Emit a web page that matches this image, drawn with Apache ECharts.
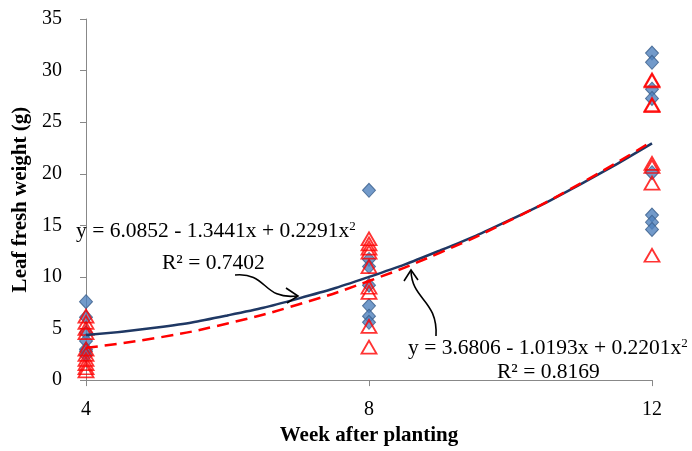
<!DOCTYPE html>
<html>
<head>
<meta charset="utf-8">
<script src="https://cdn.jsdelivr.net/npm/echarts@6/dist/echarts.min.js"></script>
<style>
html,body{margin:0;padding:0;background:#fff;}
#chart{width:692px;height:451px;}
</style>
</head>
<body>
<div id="chart"></div>
<script>
// ---- data ----
var weeks = [4, 8, 12];
var series1At4  = [7.6, 6.1, 4.6, 3.8, 3.0, 2.8, 2.4];
var series1At8  = [18.4, 11.7, 11.0, 9.2, 7.2, 6.2, 5.6];
var series1At12 = [31.7, 30.8, 28.2, 27.3, 20.1, 16.0, 15.3, 14.6];
var series2At4  = [6.2, 5.6, 5.0, 4.6, 3.0, 2.5, 2.0, 1.6, 1.2, 0.9];
var series2At8  = [13.7, 13.2, 12.8, 12.4, 11.0, 9.0, 8.5, 5.2, 3.2];
var series2At12 = [29.1, 29.0, 26.7, 26.6, 21.0, 20.7, 19.1, 12.1];
// trendline values
var trendX  = [4, 5, 6, 7, 8, 9, 10, 11, 12];
var trend1Y = [4.37, 5.09, 6.27, 7.90, 10.00, 12.55, 15.55, 19.02, 22.95];
var trend2Y = [3.13, 4.09, 5.49, 7.33, 9.61, 12.34, 15.50, 19.10, 23.14];
var yTicks = {min: 0, max: 35, interval: 5};
var xTicks = {min: 4, max: 12, interval: 4};
var eq1 = 'y = 6.0852 - 1.3441x + 0.2291x';
var r1 = 'R² = 0.7402';
var eq2 = 'y = 3.6806 - 1.0193x + 0.2201x';
var r2 = 'R² = 0.8169';
var xTitle = 'Week after planting';
var yTitle = 'Leaf fresh weight (g)';

function pairs(x, arr){ return arr.map(function(v){ return [x, v]; }); }
function zip(xs, ys){ return xs.map(function(x, i){ return [x, ys[i]]; }); }

var s1 = pairs(weeks[0], series1At4).concat(pairs(weeks[1], series1At8), pairs(weeks[2], series1At12));
var s2 = pairs(weeks[0], series2At4).concat(pairs(weeks[1], series2At8), pairs(weeks[2], series2At12));

var FONT = '"Liberation Serif", "Times New Roman", serif';
var chart = echarts.init(document.getElementById('chart'), null, {renderer: 'canvas'});

var eqStyle = {fontFamily: FONT, fontSize: 21.5, fill: '#000', rich: {sup: {fontFamily: FONT, fontSize: 13, verticalAlign: 'top', padding: [0,0,10,0]}}};

chart.setOption({
  animation: false,
  backgroundColor: '#fff',
  grid: {left: 86, right: 40, top: 19, bottom: 63, containLabel: false},
  xAxis: {
    type: 'value', min: xTicks.min, max: xTicks.max, interval: xTicks.interval,
    name: xTitle, nameLocation: 'middle', nameGap: 35,
    nameTextStyle: {fontFamily: FONT, fontSize: 21, fontWeight: 'bold', color: '#000'},
    axisLine: {show: true, onZero: false, lineStyle: {color: '#888', width: 1}},
    axisTick: {show: true, inside: false, length: 6, lineStyle: {color: '#888'}},
    axisLabel: {fontFamily: FONT, fontSize: 20, color: '#000', margin: 20},
    splitLine: {show: false}
  },
  yAxis: {
    type: 'value', min: yTicks.min, max: yTicks.max, interval: yTicks.interval,
    name: yTitle, nameLocation: 'middle', nameGap: 54, nameRotate: 90,
    nameTextStyle: {fontFamily: FONT, fontSize: 21, fontWeight: 'bold', color: '#000'},
    axisLine: {show: true, lineStyle: {color: '#888', width: 1}},
    axisTick: {show: true, inside: false, length: 6, lineStyle: {color: '#888'}},
    axisLabel: {fontFamily: FONT, fontSize: 20, color: '#000', margin: 24},
    splitLine: {show: false}
  },
  series: [
    {
      type: 'scatter', data: s1, symbol: 'diamond', symbolSize: [13, 14],
      itemStyle: {color: '#4F81BD', borderColor: '#385D8A', borderWidth: 1}, z: 2
    },
    {
      type: 'scatter', data: s2, symbol: 'triangle', symbolSize: [15, 13],
      itemStyle: {color: 'rgba(255,255,255,0)', borderColor: '#FF0000', borderWidth: 1.8}, z: 3
    },
    {
      type: 'line', data: zip(trendX, trend1Y), smooth: true, symbol: 'none',
      lineStyle: {color: '#1F3864', width: 2.5}, z: 4
    },
    {
      type: 'line', data: zip(trendX, trend2Y), smooth: true, symbol: 'none',
      lineStyle: {color: '#FF0000', width: 2.5, type: [12, 7]}, z: 5
    }
  ],
  graphic: [
    {type: 'text', left: 76, top: 220, style: Object.assign({}, eqStyle, {text: eq1 + '{sup|2}'}), z: 10},
    {type: 'text', left: 162, top: 252, style: Object.assign({}, eqStyle, {text: r1}), z: 10},
    {type: 'text', left: 408, top: 337, style: Object.assign({}, eqStyle, {text: eq2 + '{sup|2}'}), z: 10},
    {type: 'text', left: 497, top: 361, style: Object.assign({}, eqStyle, {text: r2}), z: 10},
    // arrow 1
    {type: 'bezierCurve', shape: {x1: 235, y1: 275, x2: 297, y2: 296, cpx1: 268, cpy1: 272, cpx2: 262, cpy2: 300},
      style: {stroke: '#000', lineWidth: 1.6, fill: null}, z: 10},
    {type: 'polyline', shape: {points: [[286, 288], [298, 296], [287, 303]]},
      style: {stroke: '#000', lineWidth: 1.6, fill: null}, z: 10},
    // arrow 2
    {type: 'bezierCurve', shape: {x1: 436, y1: 336, x2: 411, y2: 271, cpx1: 438, cpy1: 300, cpx2: 412, cpy2: 300},
      style: {stroke: '#000', lineWidth: 1.6, fill: null}, z: 10},
    {type: 'polyline', shape: {points: [[404, 281], [411, 270], [418, 280]]},
      style: {stroke: '#000', lineWidth: 1.6, fill: null}, z: 10}
  ]
});
</script>
</body>
</html>
